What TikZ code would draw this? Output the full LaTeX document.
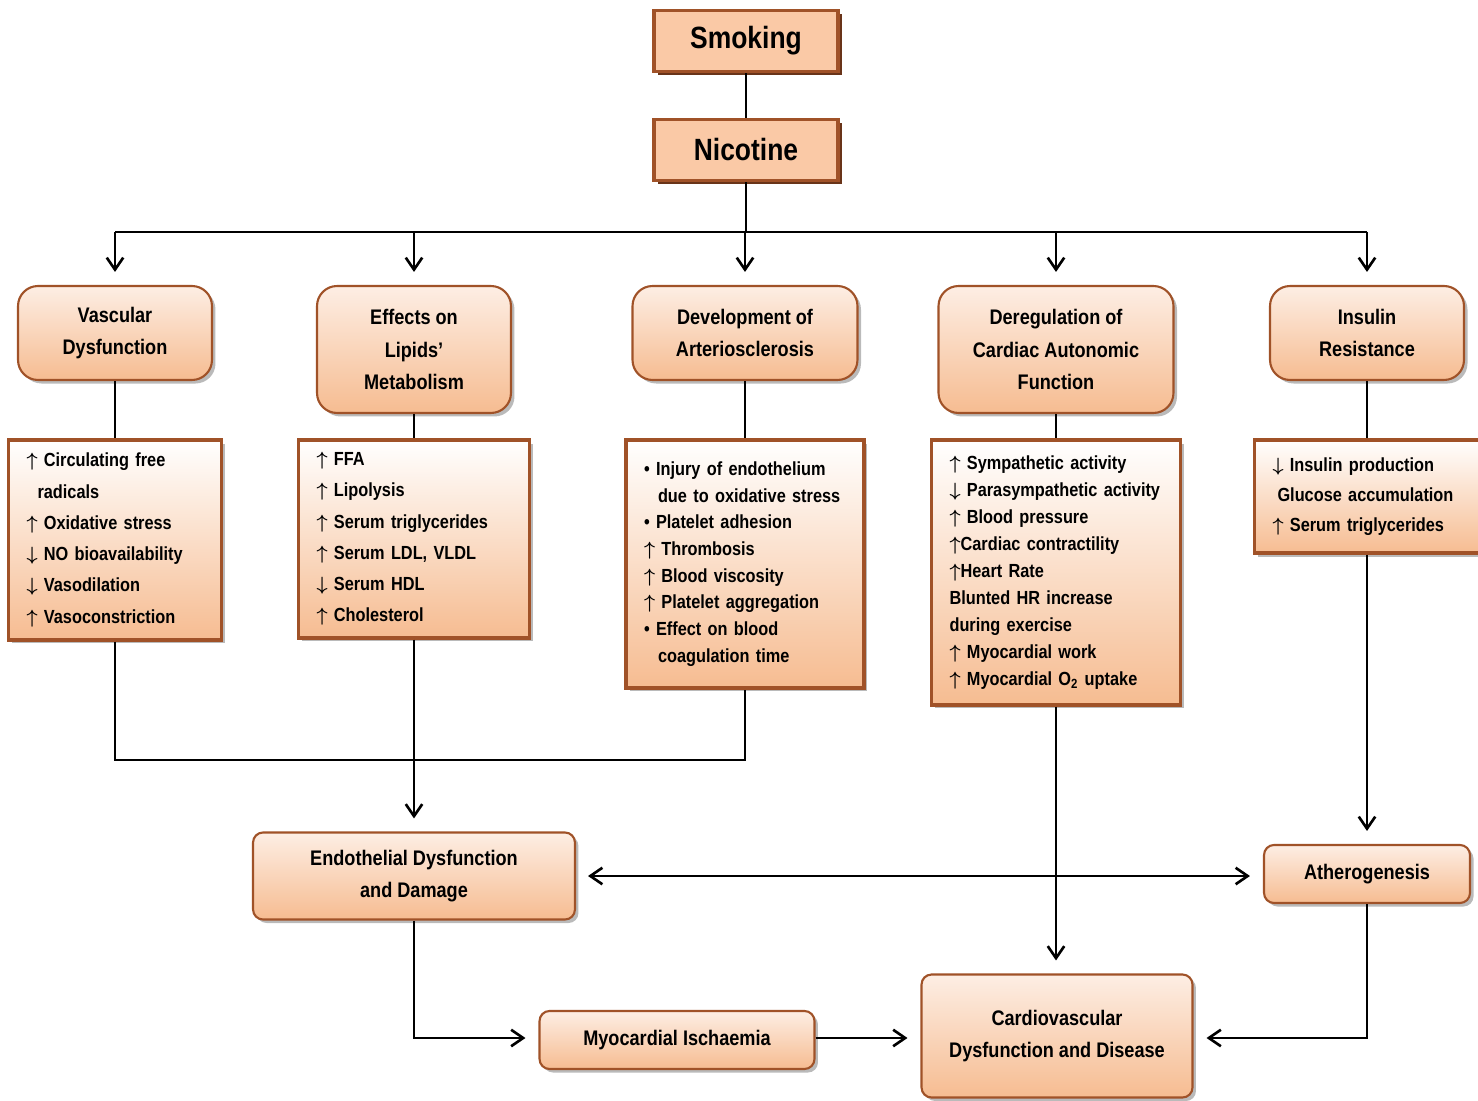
\documentclass[tikz,border=0pt]{standalone}
\usepackage{fontspec}
\setmainfont{Liberation Sans}[FakeStretch=0.86]
\usetikzlibrary{arrows.meta, positioning, shadows}

\definecolor{boxedge}{RGB}{160,82,40}
\definecolor{peach}{RGB}{250,201,166}
\definecolor{peachlight}{RGB}{253,238,228}
\definecolor{peachdark}{RGB}{246,188,145}
\definecolor{shadebrown}{RGB}{105,52,25}

\newcommand{\incr}{{\boldmath$\uparrow$}}
\newcommand{\decr}{{\boldmath$\downarrow$}}

\begin{document}
\begin{tikzpicture}[
			x=0.02cm, y=-0.02cm,
			font=\bfseries\fontsize{12pt}{18.4pt}\selectfont,
			source/.style={
					draw=boxedge,
					line width=2pt,
					fill=peach,
					minimum width=3.68cm,
					minimum height=1.22cm,
					font=\bfseries\fontsize{17.5pt}{20pt}\selectfont,
					drop shadow={shadow xshift=2.2pt, shadow yshift=-2.2pt, fill=shadebrown, opacity=1}
				},
			cause/.style={
					draw=boxedge,
					line width=1.2pt,
					rounded corners=0.4cm,
					top color=peachlight,
					bottom color=peachdark,
					align=center,
					drop shadow={shadow xshift=2pt, shadow yshift=-2pt, fill=black!60, opacity=0.45}
				},
			outcome/.style={
					cause,
					rounded corners=0.2cm
				},
			effect/.style={
					draw=boxedge,
					line width=1.8pt,
					top color=white,
					bottom color=peachdark,
					align=left,
					inner xsep=0.36cm,
					font=\bfseries\fontsize{10.8pt}{17.8pt}\selectfont,
					drop shadow={shadow xshift=2pt, shadow yshift=-2pt, fill=black!60, opacity=0.45}
				},
			link/.style={
					line width=1.5pt
				},
			arrowline/.style={
			link,
			-{Straight Barb[length=2.4mm, width=3.3mm]},
			shorten >=0.26cm
			},
			twoway/.style={
			arrowline,
			{Straight Barb[length=2.4mm, width=3.3mm]}-{Straight Barb[length=2.4mm, width=3.3mm]},
			shorten <=0.24cm
			}
			]

			\useasboundingbox (0,0) rectangle (1478,1101);

			% ================= source =================
			\node[source] (smoking) at (746,41) {Smoking};
			\node[source] (nicotine) at (746,150) {Nicotine};
			\draw[link] (smoking) -- (nicotine);

			% ================= five pathways =================
			\node[cause, minimum width=3.88cm, minimum height=1.88cm] (vasc) at (115,333) {Vascular\\Dysfunction};
			\node[cause, minimum width=3.88cm, minimum height=2.54cm] (lipid) at (414,349.5) {Effects on\\Lipids’\\Metabolism};
			\node[cause, minimum width=4.5cm, minimum height=1.88cm] (arter) at (745,333) {Development of\\Arteriosclerosis};
			\node[cause, minimum width=4.7cm, minimum height=2.54cm] (cardiac) at (1056,349.5) {Deregulation of\\Cardiac Autonomic\\Function};
			\node[cause, minimum width=3.88cm, minimum height=1.88cm] (insulin) at (1367,333) {Insulin\\Resistance};

			% nicotine splits to all five
			\coordinate (hub) at (745,232);
			\draw[link] (nicotine) -- (nicotine |- hub);
			\draw[link] (vasc.north |- hub) -- (insulin.north |- hub);
			\draw[arrowline] (vasc.north |- hub) -- (vasc.north);
			\draw[arrowline] (lipid.north |- hub) -- (lipid.north);
			\draw[arrowline] (hub) -- (arter.north);
			\draw[arrowline] (cardiac.north |- hub) -- (cardiac.north);
			\draw[arrowline] (insulin.north |- hub) -- (insulin.north);

			% ================= effect lists =================
			\node[effect, text width=3.54cm, minimum height=4cm] (vaslist) at (115,540) {%
				\incr{} Circulating free\\
				\hspace*{0.22cm}radicals\\
				\incr{} Oxidative stress\\
				\decr{} NO bioavailability\\
				\decr{} Vasodilation\\
				\incr{} Vasoconstriction};
			\node[effect, text width=3.9cm, minimum height=3.96cm] (lipidlist) at (414,539) {%
				\incr{} FFA\\
				\incr{} Lipolysis\\
				\incr{} Serum triglycerides\\
				\incr{} Serum LDL, VLDL\\
				\decr{} Serum HDL\\
				\incr{} Cholesterol};
			\node[effect, text width=4.04cm, minimum height=4.96cm,
				font=\bfseries\fontsize{10.8pt}{15.2pt}\selectfont] (artlist) at (745,564) {%
				• Injury of endothelium\\
				\hspace*{0.28cm}due to oxidative stress\\
				• Platelet adhesion\\
				\incr{} Thrombosis\\
				\incr{} Blood viscosity\\
				\incr{} Platelet aggregation\\
				• Effect on blood\\
				\hspace*{0.28cm}coagulation time};
			\node[effect, text width=4.26cm, minimum height=5.3cm,
				font=\bfseries\fontsize{10.8pt}{15.4pt}\selectfont] (cardlist) at (1056,572.5) {%
				\incr{} Sympathetic activity\\
				\decr{} Parasympathetic activity\\
				\incr{} Blood pressure\\
				\incr{}Cardiac contractility\\
				\incr{}Heart Rate\\
				Blunted HR increase\\
				during exercise\\
				\incr{} Myocardial work\\
				\incr{} Myocardial O\textsubscript{2} uptake};
			\node[effect, text width=3.78cm, minimum height=2.26cm,
				font=\bfseries\fontsize{10.8pt}{17pt}\selectfont] (inslist) at (1367,496.5) {%
				\decr{} Insulin production\\
				\hspace*{0.1cm}Glucose accumulation\\
				\incr{} Serum triglycerides};

			\draw[link] (vasc) -- (vaslist);
			\draw[link] (lipid) -- (lipidlist);
			\draw[link] (arter) -- (artlist);
			\draw[link] (cardiac) -- (cardlist);
			\draw[link] (insulin) -- (inslist);

			% ================= outcomes =================
			\node[outcome, minimum width=6.44cm, minimum height=1.74cm] (endo) at (414,876) {Endothelial Dysfunction\\and Damage};
			\node[outcome, minimum width=4.12cm, minimum height=1.16cm] (athero) at (1367,874) {Atherogenesis};
			\node[outcome, minimum width=5.5cm, minimum height=1.16cm] (ischaemia) at (677,1040) {Myocardial Ischaemia};
			\node[outcome, minimum width=5.42cm, minimum height=2.46cm] (cvd) at (1057,1036) {Cardiovascular\\Dysfunction and Disease};

			% vascular and arteriosclerosis lists join the lipid line
			\coordinate (join) at (745,760);
			\draw[link] (vaslist.south) |- (join) -- (artlist.south);
			\draw[arrowline] (lipidlist.south) -- (lipidlist.south |- endo.north);

			\draw[twoway] (endo.east) -- (endo.east -| athero.west);
			\draw[arrowline] (inslist.south) -- (inslist.south |- athero.north);
			\draw[arrowline] (cardlist.south) -- (cardlist.south |- cvd.north);

			% bottom row
			\coordinate (rowline) at (1057,1038);
			\draw[arrowline] (endo.south) |- (ischaemia.west |- rowline);
			\draw[arrowline] (ischaemia.east |- rowline) -- (cvd.west |- rowline);
			\draw[arrowline] (athero.south) |- (cvd.east |- rowline);

		\end{tikzpicture}
\end{document}
